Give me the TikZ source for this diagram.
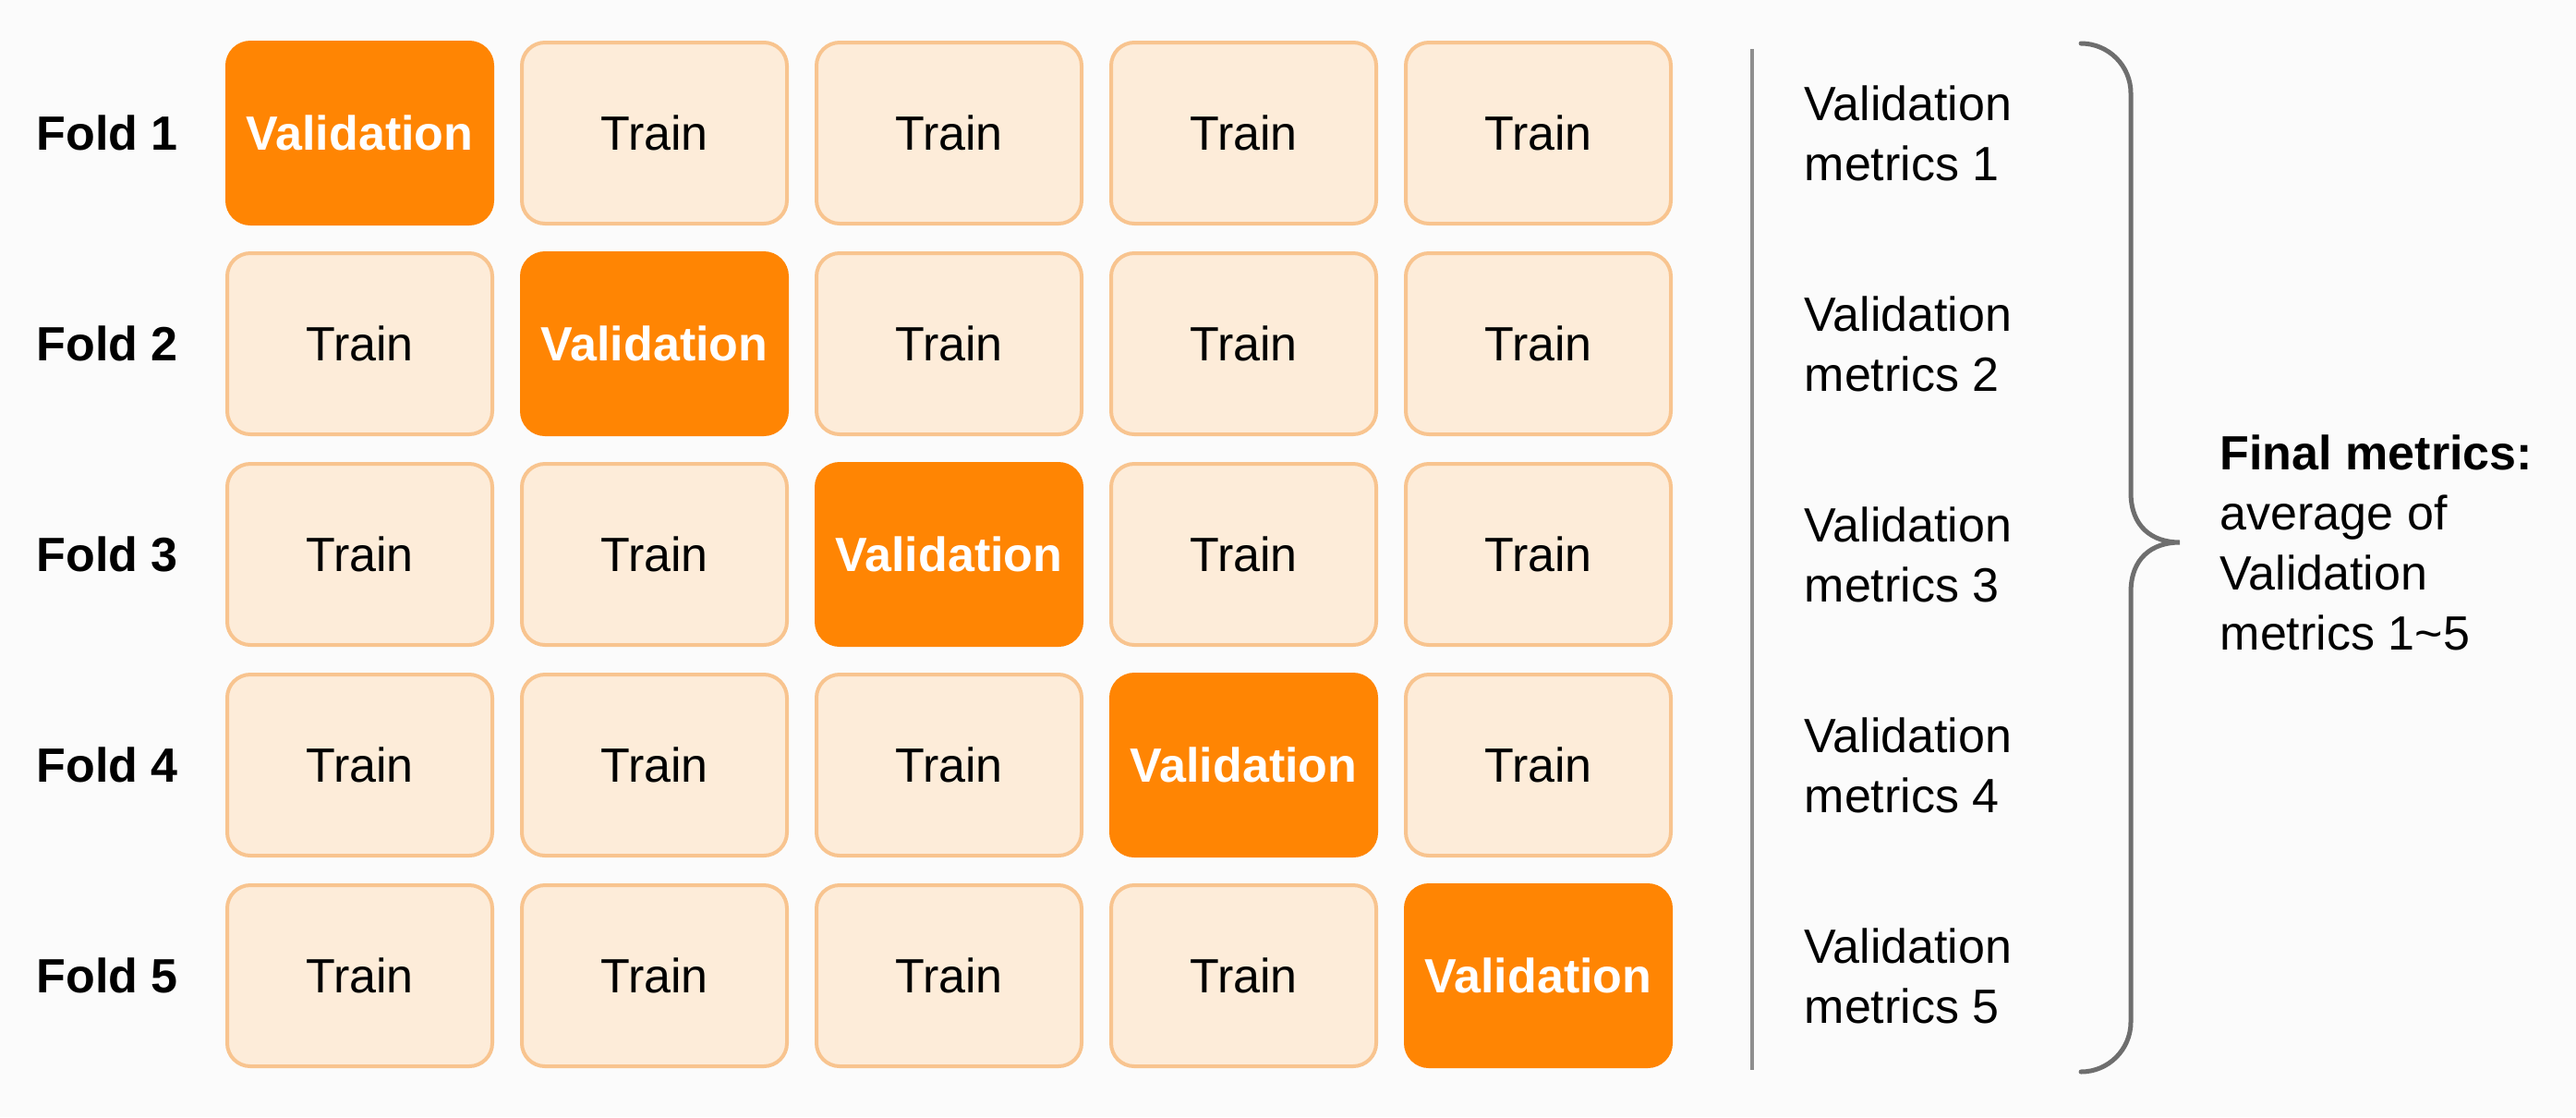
\documentclass[tikz,border=0pt]{standalone}
\usepackage{fontspec}
\setmainfont{Liberation Sans}
\usepackage{xcolor}
\definecolor{FoldOrange}{HTML}{FF8503}
\definecolor{TrainFill}{HTML}{FDECD9}
\definecolor{TrainEdge}{HTML}{F8C48F}
\definecolor{PageBg}{HTML}{FBFBFB}
\definecolor{RuleGrey}{HTML}{8E8E8E}
\definecolor{BraceGrey}{HTML}{6E6E6E}
\usepackage{tikz}
\usetikzlibrary{positioning}

\tikzset{
  basefont/.style={font=\fontsize{14.8}{18.5}\selectfont},
  trainbox/.style={basefont, draw=TrainEdge, fill=TrainFill, line width=0.04cm, rounded corners=0.25cm,
    minimum width=2.87cm, minimum height=1.96cm, text=black},
  validbox/.style={trainbox, draw=FoldOrange, fill=FoldOrange, text=white, font=\fontsize{14.8}{18.5}\selectfont\bfseries},
  foldlabel/.style={basefont, font=\fontsize{14.8}{18.5}\selectfont\bfseries, anchor=west, inner sep=0pt},
  metric/.style={basefont, anchor=west, align=left, inner sep=0pt}
}

\begin{document}
\begin{tikzpicture}
        \fill[PageBg] (0,0) rectangle (27.89,-12.09);
        \useasboundingbox (0,0) rectangle (27.89,-12.09);

        \foreach \r in {1,...,5} {
            \node[foldlabel] (fold\r) at (0.39,{-1.44-2.28*(\r-1)}) {Fold \r};
            \foreach \c in {1,...,5} {
                \ifnum\c=\r
                    \node[validbox] (box\r\c) at ({3.895+3.19*(\c-1)},{-1.44-2.28*(\r-1)}) {Validation};
                \else
                    \node[trainbox] (box\r\c) at ({3.895+3.19*(\c-1)},{-1.44-2.28*(\r-1)}) {Train};
                \fi
            }
            \node[metric] (metric\r) at (19.53,{-1.44-2.28*(\r-1)}) {Validation\\metrics \r};
        }

        % divider and brace
        \coordinate (ruletop) at (18.97,-0.53);
        \coordinate (rulebot) at (18.97,-11.58);
        \draw[RuleGrey, line width=0.04cm] (ruletop) -- (rulebot);

        \draw[BraceGrey, line width=0.05cm, line cap=round]
            (22.53,-0.47) arc[start angle=90, end angle=0, radius=0.54] -- (23.07,-5.33)
            .. controls (23.07,-5.70) and (23.30,-5.87) .. (23.60,-5.87)
            .. controls (23.30,-5.87) and (23.07,-6.04) .. (23.07,-6.41)
            -- (23.07,-11.06) arc[start angle=0, end angle=-90, radius=0.54];

        \node[metric] (final) at (24.03,-5.87) {\textbf{Final metrics:}\\average of\\Validation\\metrics 1\textasciitilde5};
    \end{tikzpicture}
\end{document}
